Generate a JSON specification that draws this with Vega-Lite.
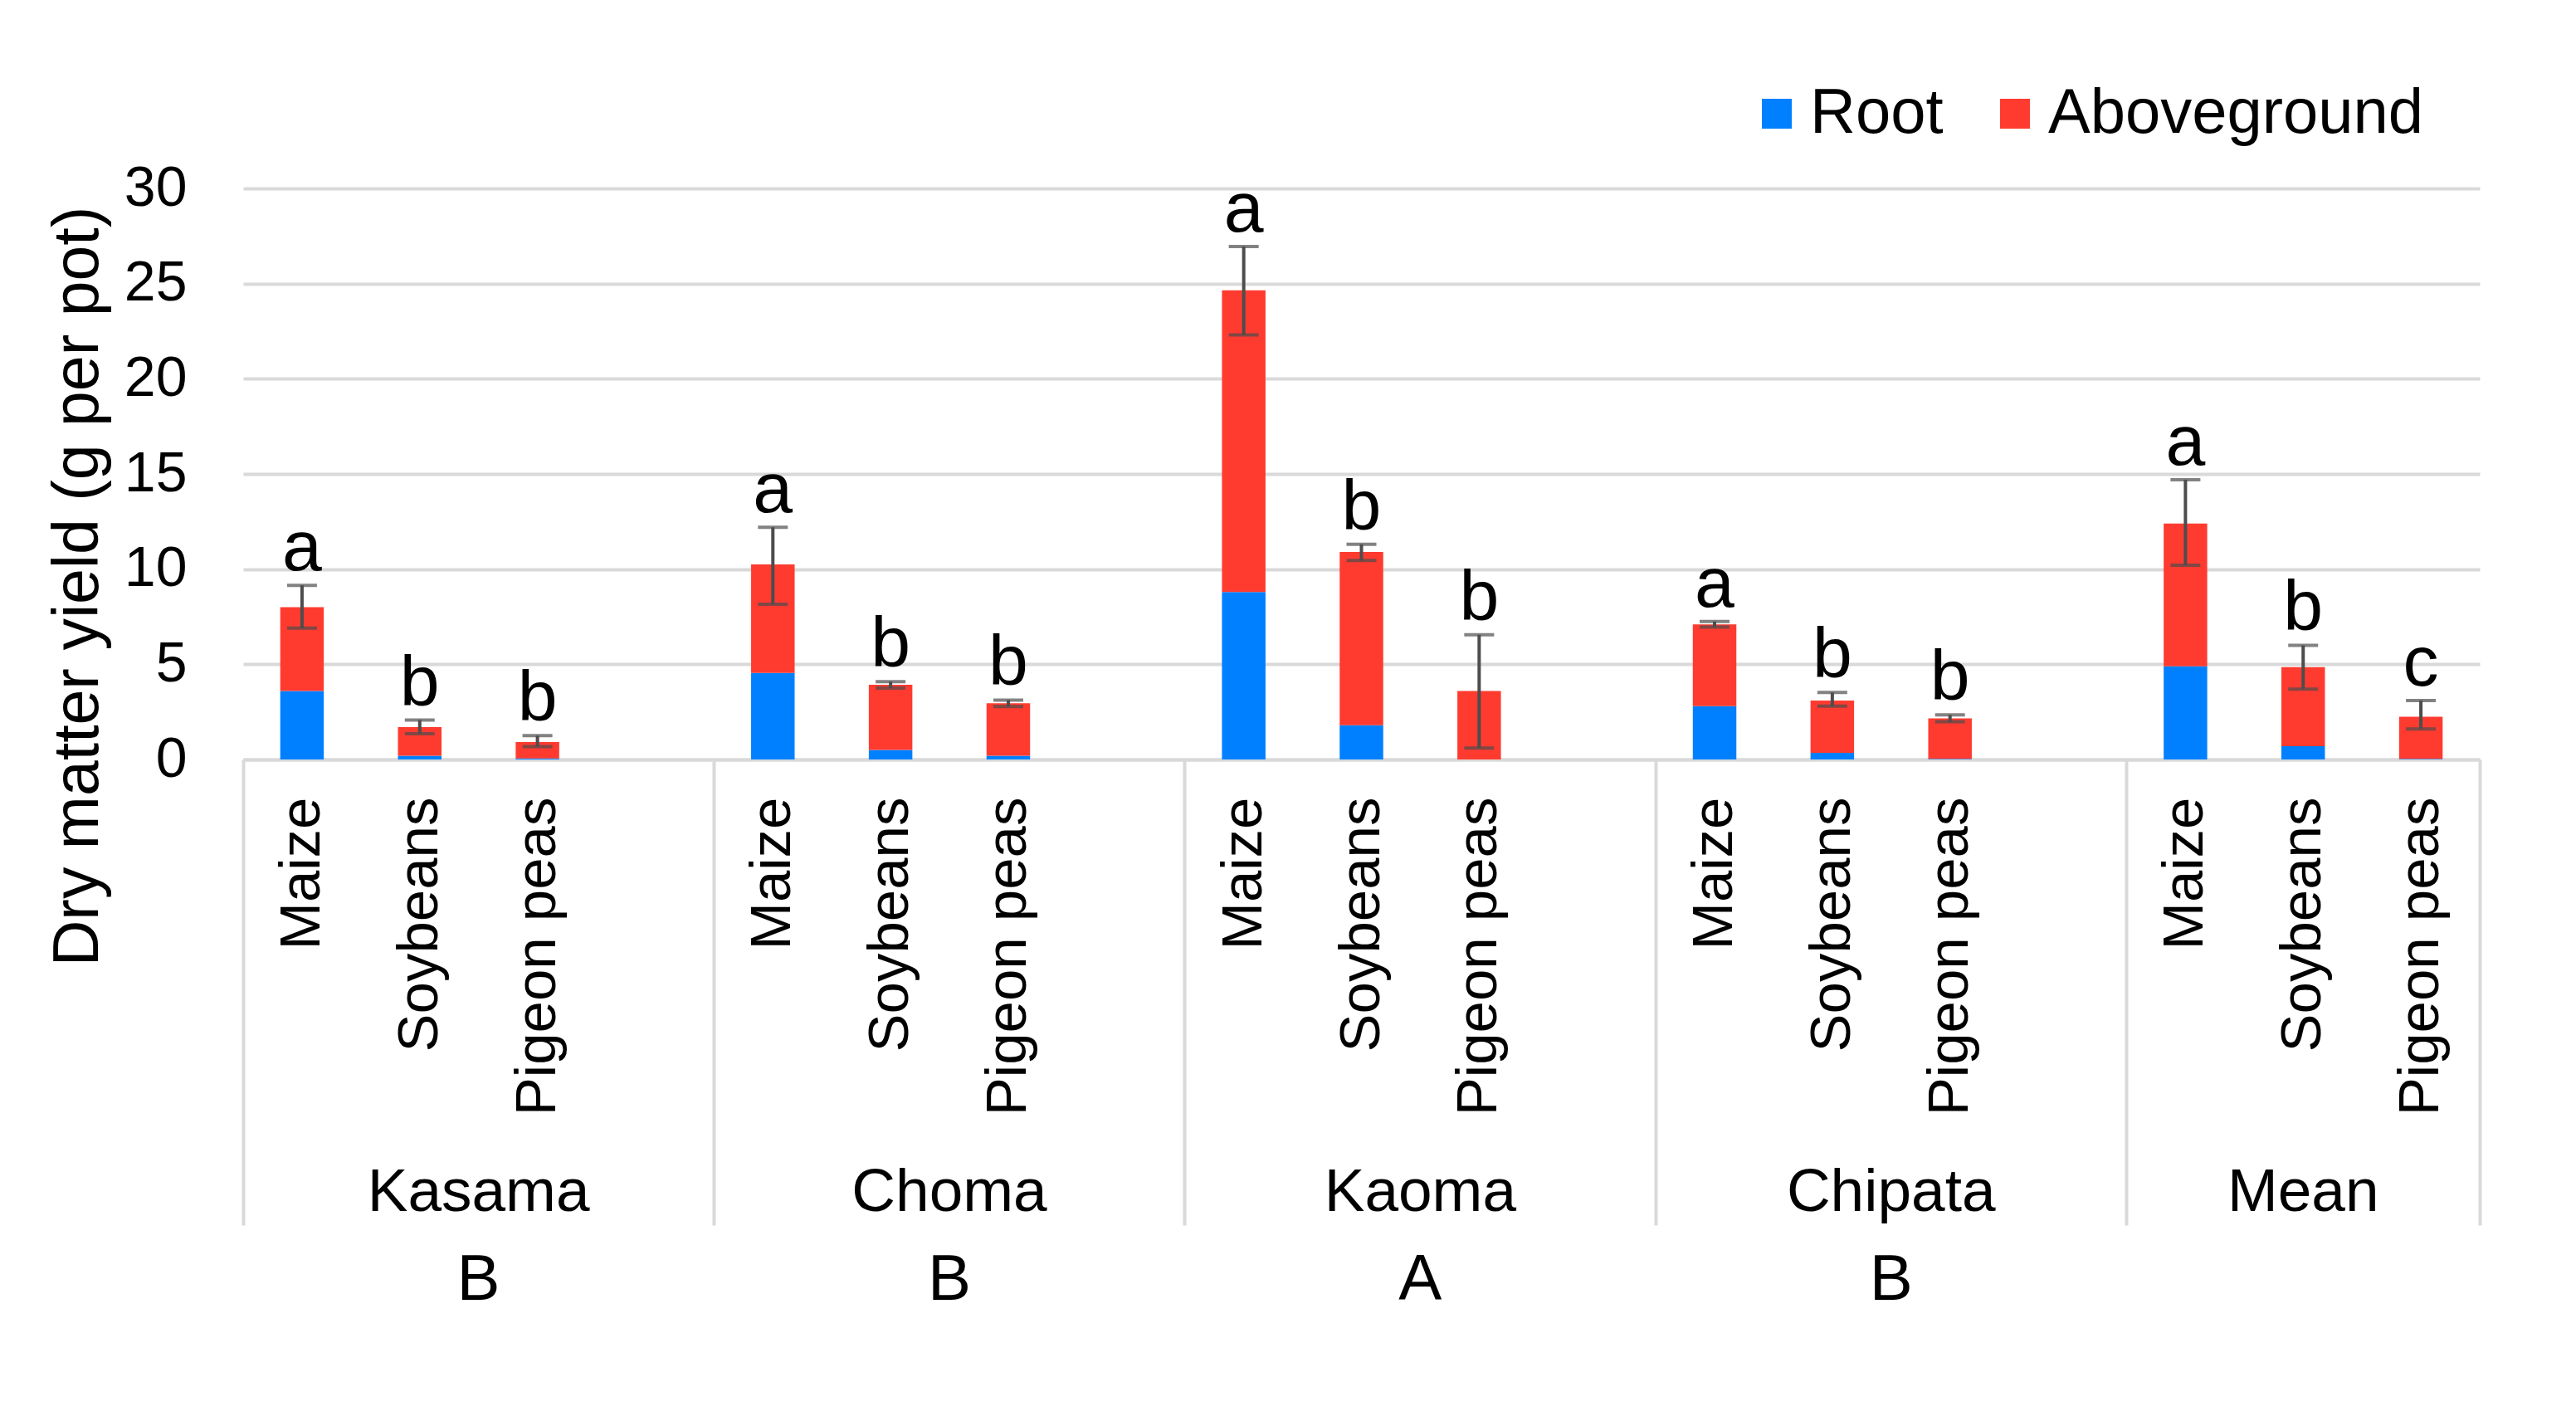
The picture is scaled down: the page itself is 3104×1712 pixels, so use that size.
{
  "$schema": "https://vega.github.io/schema/vega-lite/v6.json",
  "width": 2695,
  "height": 688,
  "autosize": {"type": "none"},
  "padding": {"left": 293, "top": 227, "right": 116, "bottom": 797},
  "background": "white",
  "config": {"font": "Liberation Sans", "view": {"stroke": null}, "axis": {"labelLimit": 0}, "legend": {"labelLimit": 0}},
  "data": {
    "values": [
      {"site": "Kasama", "crop": "Maize", "key": "Kasama|Maize", "root": 3.6, "total": 8.0, "lo": 6.9, "hi": 9.15, "letter": "a"},
      {"site": "Kasama", "crop": "Soybeans", "key": "Kasama|Soybeans", "root": 0.2, "total": 1.7, "lo": 1.35, "hi": 2.07, "letter": "b"},
      {"site": "Kasama", "crop": "Pigeon peas", "key": "Kasama|Pigeon peas", "root": 0.05, "total": 0.92, "lo": 0.68, "hi": 1.25, "letter": "b"},
      {"site": "Choma", "crop": "Maize", "key": "Choma|Maize", "root": 4.55, "total": 10.25, "lo": 8.15, "hi": 12.2, "letter": "a"},
      {"site": "Choma", "crop": "Soybeans", "key": "Choma|Soybeans", "root": 0.5, "total": 3.92, "lo": 3.75, "hi": 4.09, "letter": "b"},
      {"site": "Choma", "crop": "Pigeon peas", "key": "Choma|Pigeon peas", "root": 0.2, "total": 2.95, "lo": 2.78, "hi": 3.12, "letter": "b"},
      {"site": "Kaoma", "crop": "Maize", "key": "Kaoma|Maize", "root": 8.8, "total": 24.65, "lo": 22.3, "hi": 26.95, "letter": "a"},
      {"site": "Kaoma", "crop": "Soybeans", "key": "Kaoma|Soybeans", "root": 1.8, "total": 10.9, "lo": 10.45, "hi": 11.3, "letter": "b"},
      {"site": "Kaoma", "crop": "Pigeon peas", "key": "Kaoma|Pigeon peas", "root": 0.0, "total": 3.6, "lo": 0.6, "hi": 6.55, "letter": "b"},
      {"site": "Chipata", "crop": "Maize", "key": "Chipata|Maize", "root": 2.8, "total": 7.1, "lo": 6.95, "hi": 7.25, "letter": "a"},
      {"site": "Chipata", "crop": "Soybeans", "key": "Chipata|Soybeans", "root": 0.35, "total": 3.1, "lo": 2.8, "hi": 3.52, "letter": "b"},
      {"site": "Chipata", "crop": "Pigeon peas", "key": "Chipata|Pigeon peas", "root": 0.03, "total": 2.16, "lo": 1.98, "hi": 2.34, "letter": "b"},
      {"site": "Mean", "crop": "Maize", "key": "Mean|Maize", "root": 4.9, "total": 12.4, "lo": 10.2, "hi": 14.7, "letter": "a"},
      {"site": "Mean", "crop": "Soybeans", "key": "Mean|Soybeans", "root": 0.7, "total": 4.85, "lo": 3.7, "hi": 6.0, "letter": "b"},
      {"site": "Mean", "crop": "Pigeon peas", "key": "Mean|Pigeon peas", "root": 0.03, "total": 2.25, "lo": 1.6, "hi": 3.1, "letter": "c"}
    ]
  },
  "resolve": {"axis": {"x": "independent", "y": "independent"}},
  "layer": [
    {
      "mark": {"type": "bar", "width": {"band": 0.37}},
      "encoding": {
        "x": {
          "field": "key", "type": "nominal",
          "scale": {"type": "band", "paddingInner": 0, "paddingOuter": 0, "domain": ["Kasama|Maize", "Kasama|Soybeans", "Kasama|Pigeon peas", "Kasama|", "Choma|Maize", "Choma|Soybeans", "Choma|Pigeon peas", "Choma|", "Kaoma|Maize", "Kaoma|Soybeans", "Kaoma|Pigeon peas", "Kaoma|", "Chipata|Maize", "Chipata|Soybeans", "Chipata|Pigeon peas", "Chipata|", "Mean|Maize", "Mean|Soybeans", "Mean|Pigeon peas"]},
          "axis": {"orient": "bottom", "title": null, "labelExpr": "split(datum.value, '|')[1]", "labelAngle": 270, "labelFontSize": 69, "labelColor": "#000000", "labelPadding": 45, "labelLimit": 0, "ticks": false, "tickSize": 0, "domain": true, "domainColor": "#d9d9d9", "domainWidth": 4, "grid": false, "labelOverlap": false, "labelBound": false, "labelFlush": false}
        },
        "y": {
          "field": "root", "type": "quantitative",
          "scale": {"domain": [0, 30], "nice": false, "zero": true},
          "axis": {"orient": "left", "title": "Dry matter yield (g per pot)", "values": [0, 5, 10, 15, 20, 25, 30], "grid": true, "gridColor": "#d9d9d9", "gridWidth": 4, "domain": false, "ticks": false, "tickSize": 0, "labelFontSize": 68, "labelColor": "#000000", "labelPadding": 68, "labelFlush": false, "titleFontSize": 77, "titleFontWeight": "normal", "titleColor": "#000000", "titleAngle": 270, "titleBaseline": "bottom", "titleAlign": "center", "titleX": -160, "titleY": 479}
        },
        "color": {
          "datum": "Root",
          "scale": {"domain": ["Root", "Aboveground"], "range": ["#0080FF", "#FF3B30"]},
          "legend": {"orient": "none", "legendX": 1810, "legendY": -128, "direction": "horizontal", "title": null, "symbolType": "square", "symbolSize": 1296, "symbolStrokeWidth": 0, "labelFontSize": 76, "labelColor": "#000000", "labelLimit": 0, "labelOffset": 2, "columnPadding": 48, "padding": 0}
        }
      }
    },
    {
      "mark": {"type": "bar", "width": {"band": 0.37}},
      "encoding": {
        "x": {
          "field": "key", "type": "nominal",
          "scale": {"type": "band", "paddingInner": 0, "paddingOuter": 0, "domain": ["Kasama|Maize", "Kasama|Soybeans", "Kasama|Pigeon peas", "Kasama|", "Choma|Maize", "Choma|Soybeans", "Choma|Pigeon peas", "Choma|", "Kaoma|Maize", "Kaoma|Soybeans", "Kaoma|Pigeon peas", "Kaoma|", "Chipata|Maize", "Chipata|Soybeans", "Chipata|Pigeon peas", "Chipata|", "Mean|Maize", "Mean|Soybeans", "Mean|Pigeon peas"]},
          "axis": {"orient": "bottom", "title": null, "values": ["Kasama|Maize", "Choma|Maize", "Kaoma|Maize", "Chipata|Maize", "Mean|Maize"], "bandPosition": 0, "labels": false, "domain": false, "grid": false, "ticks": true, "tickSize": 561, "tickColor": "#d9d9d9", "tickWidth": 4}
        },
        "y": {"field": "root", "type": "quantitative", "axis": null},
        "y2": {"field": "total"},
        "color": {"datum": "Aboveground"}
      }
    },
    {
      "mark": {"type": "rule", "strokeWidth": 4, "color": "#4d4d4d"},
      "encoding": {
        "x": {
          "field": "key", "type": "nominal",
          "scale": {"type": "band", "paddingInner": 0, "paddingOuter": 0, "domain": ["Kasama|Maize", "Kasama|Soybeans", "Kasama|Pigeon peas", "Kasama|", "Choma|Maize", "Choma|Soybeans", "Choma|Pigeon peas", "Choma|", "Kaoma|Maize", "Kaoma|Soybeans", "Kaoma|Pigeon peas", "Kaoma|", "Chipata|Maize", "Chipata|Soybeans", "Chipata|Pigeon peas", "Chipata|", "Mean|Maize", "Mean|Soybeans", "Mean|Pigeon peas"]},
          "axis": {"orient": "bottom", "title": null, "values": ["Mean|Pigeon peas"], "bandPosition": 1, "labels": false, "domain": false, "grid": false, "ticks": true, "tickSize": 561, "tickColor": "#d9d9d9", "tickWidth": 4}
        },
        "y": {"field": "lo", "type": "quantitative", "axis": null},
        "y2": {"field": "hi"}
      }
    },
    {
      "mark": {"type": "tick", "size": 36, "thickness": 4, "color": "#4d4d4d"},
      "encoding": {
        "x": {
          "field": "key", "type": "nominal",
          "scale": {"type": "band", "paddingInner": 0, "paddingOuter": 0, "domain": ["Kasama|Maize", "Kasama|Soybeans", "Kasama|Pigeon peas", "Kasama|", "Choma|Maize", "Choma|Soybeans", "Choma|Pigeon peas", "Choma|", "Kaoma|Maize", "Kaoma|Soybeans", "Kaoma|Pigeon peas", "Kaoma|", "Chipata|Maize", "Chipata|Soybeans", "Chipata|Pigeon peas", "Chipata|", "Mean|Maize", "Mean|Soybeans", "Mean|Pigeon peas"]},
          "axis": {"orient": "bottom", "title": null, "values": ["Kasama|Pigeon peas", "Choma|Pigeon peas", "Kaoma|Pigeon peas", "Chipata|Pigeon peas"], "labelOffset": -71, "labelExpr": "split(datum.value, '|')[0]", "labelAngle": 0, "labelAlign": "center", "labelBaseline": "top", "labelFontSize": 73, "labelColor": "#000000", "labelPadding": 485, "labelLimit": 0, "ticks": false, "tickSize": 0, "domain": false, "grid": false, "labelOverlap": false, "labelBound": false, "labelFlush": false}
        },
        "y": {"field": "lo", "type": "quantitative", "axis": null}
      }
    },
    {
      "mark": {"type": "tick", "size": 36, "thickness": 4, "color": "#4d4d4d"},
      "encoding": {
        "x": {
          "field": "key", "type": "nominal",
          "scale": {"type": "band", "paddingInner": 0, "paddingOuter": 0, "domain": ["Kasama|Maize", "Kasama|Soybeans", "Kasama|Pigeon peas", "Kasama|", "Choma|Maize", "Choma|Soybeans", "Choma|Pigeon peas", "Choma|", "Kaoma|Maize", "Kaoma|Soybeans", "Kaoma|Pigeon peas", "Kaoma|", "Chipata|Maize", "Chipata|Soybeans", "Chipata|Pigeon peas", "Chipata|", "Mean|Maize", "Mean|Soybeans", "Mean|Pigeon peas"]},
          "axis": {"orient": "bottom", "title": null, "values": ["Mean|Soybeans"], "labelExpr": "split(datum.value, '|')[0]", "labelAngle": 0, "labelAlign": "center", "labelBaseline": "top", "labelFontSize": 73, "labelColor": "#000000", "labelPadding": 485, "labelLimit": 0, "ticks": false, "tickSize": 0, "domain": false, "grid": false, "labelOverlap": false, "labelBound": false, "labelFlush": false}
        },
        "y": {"field": "hi", "type": "quantitative", "axis": null}
      }
    },
    {
      "mark": {"type": "text", "fontSize": 86, "baseline": "alphabetic", "align": "center", "dy": -18, "color": "#000000"},
      "encoding": {
        "x": {
          "field": "key", "type": "nominal",
          "scale": {"type": "band", "paddingInner": 0, "paddingOuter": 0, "domain": ["Kasama|Maize", "Kasama|Soybeans", "Kasama|Pigeon peas", "Kasama|", "Choma|Maize", "Choma|Soybeans", "Choma|Pigeon peas", "Choma|", "Kaoma|Maize", "Kaoma|Soybeans", "Kaoma|Pigeon peas", "Kaoma|", "Chipata|Maize", "Chipata|Soybeans", "Chipata|Pigeon peas", "Chipata|", "Mean|Maize", "Mean|Soybeans", "Mean|Pigeon peas"]},
          "axis": {"orient": "bottom", "title": null, "values": ["Kasama|Pigeon peas", "Choma|Pigeon peas", "Kaoma|Pigeon peas", "Chipata|Pigeon peas"], "labelOffset": -71, "labelExpr": "datum.value === 'Kaoma|Pigeon peas' ? 'A' : 'B'", "labelAngle": 0, "labelAlign": "center", "labelBaseline": "top", "labelFontSize": 78, "labelColor": "#000000", "labelPadding": 588, "labelLimit": 0, "ticks": false, "tickSize": 0, "domain": false, "grid": false, "labelOverlap": false, "labelBound": false, "labelFlush": false}
        },
        "y": {"field": "hi", "type": "quantitative", "axis": null},
        "text": {"field": "letter", "type": "nominal"}
      }
    }
  ]
}
